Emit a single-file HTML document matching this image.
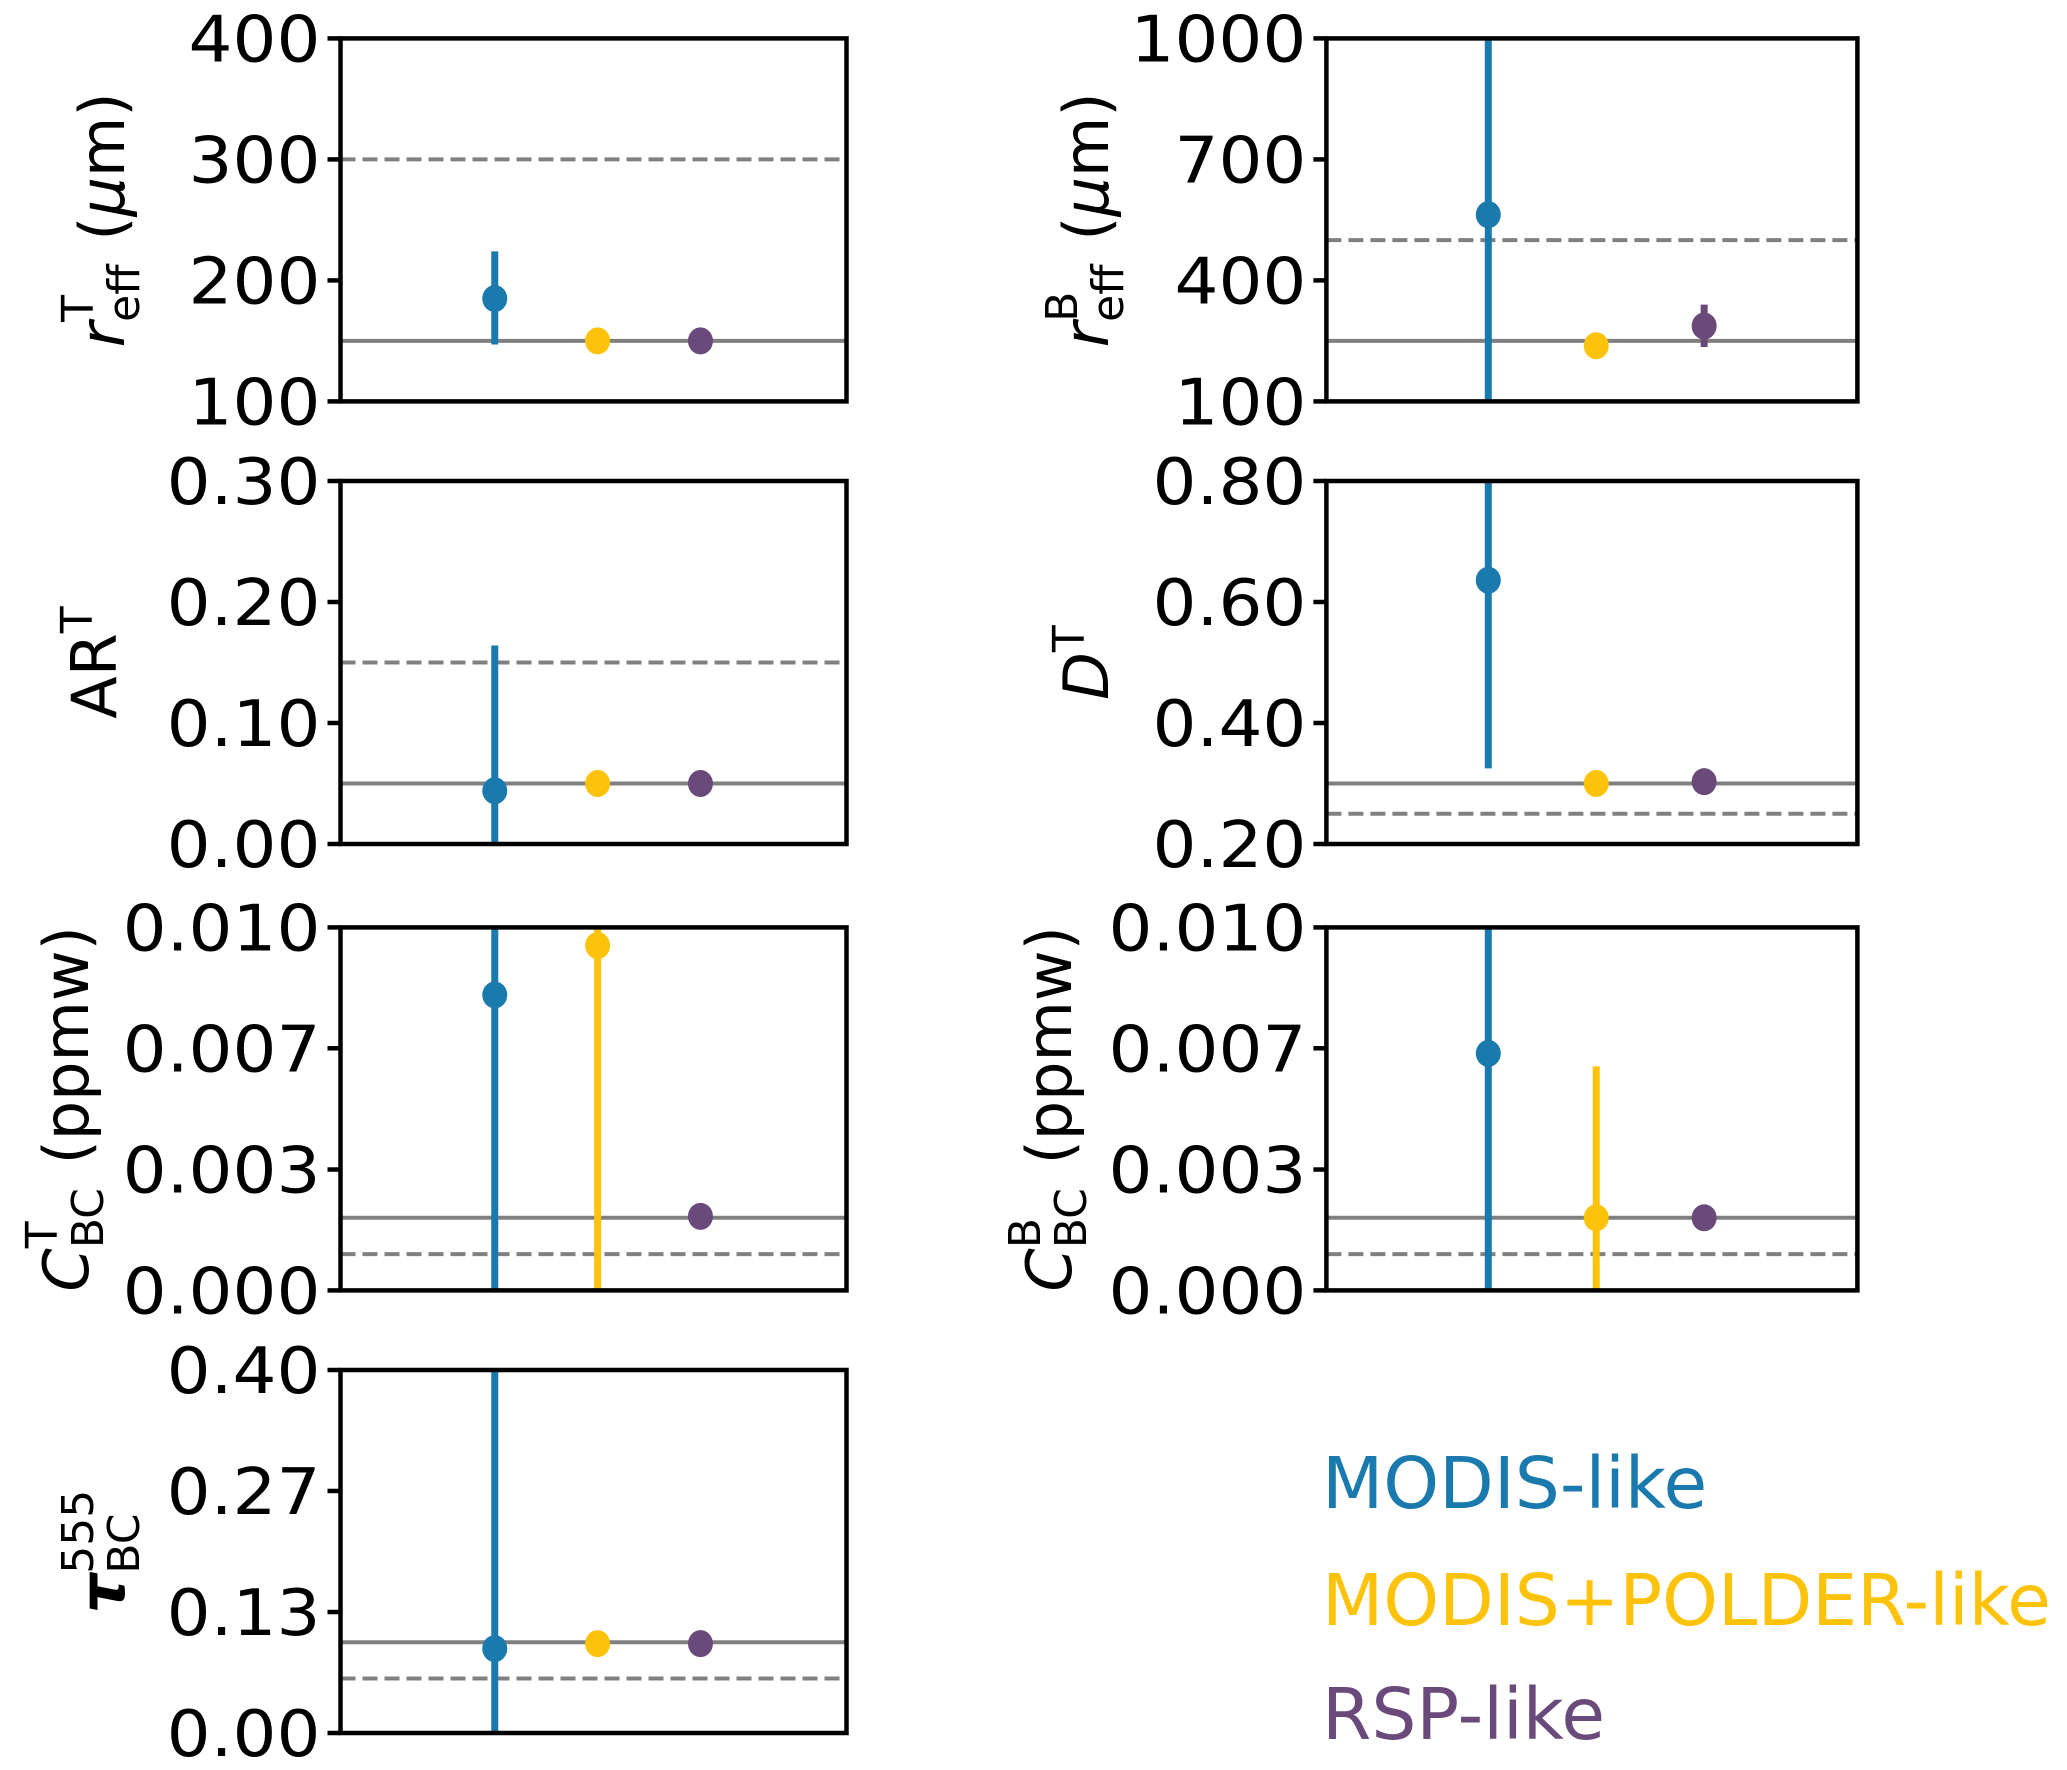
<!DOCTYPE html>
<html><head><meta charset="utf-8">
<style>
html,body{margin:0;padding:0;background:#fff;}
svg{display:block;font-family:"DejaVu Sans","Liberation Sans",sans-serif;}
</style></head>
<body>
<svg id="fig" width="2067" height="1770" viewBox="0 0 2067 1770">
<g id="legend" font-size="71">
<text x="1322" y="1508" fill="#1a7aad">MODIS-like</text>
<text x="1322" y="1625" fill="#fdc20a">MODIS+POLDER-like</text>
<text x="1322" y="1739" fill="#6a4a7a">RSP-like</text>
</g>
</svg>
<script>
// ---- data ----
const seriesNames = ["MODIS-like","MODIS+POLDER-like","RSP-like"];
const seriesColors = ["#1a7aad","#fdc20a","#6a4a7a"];
const panelIds = ["reffT","reffB","ART","DT","CbcT","CbcB","tau"];
const yMin = [100,100,0,0.2,0,0,0];
const yMax = [400,1000,0.3,0.8,0.01,0.01,0.4];
const tickValues = [[100,200,300,400],[100,400,700,1000],[0,0.1,0.2,0.3],[0.2,0.4,0.6,0.8],[0,0.00333,0.00667,0.01],[0,0.00333,0.00667,0.01],[0,0.1333,0.2667,0.4]];
const tickLabels = [["100","200","300","400"],["100","400","700","1000"],["0.00","0.10","0.20","0.30"],["0.20","0.40","0.60","0.80"],["0.000","0.003","0.007","0.010"],["0.000","0.003","0.007","0.010"],["0.00","0.13","0.27","0.40"]];
const truthValues = [150,250,0.05,0.3,0.002,0.002,0.1];
const priorValues = [300,500,0.15,0.25,0.001,0.001,0.06];
const modisValues = [185,563,0.044,0.636,0.00814,0.00653,0.093];
const modisLow = [147,0,-0.1,0.325,0,0,0];
const modisHigh = [224,2000,0.164,1.0,0.02,0.02,1.0];
const polderValues = [150,238,0.05,0.30,0.0095,0.002,0.0985];
const polderLow = [150,238,0.05,0.29,0,0,0.0985];
const polderHigh = [150,238,0.05,0.31,0.02,0.00617,0.0985];
const rspValues = [150,287,0.05,0.303,0.00204,0.002,0.0985];
const rspLow = [150,235,0.05,0.303,0.00204,0.002,0.0985];
const rspHigh = [150,340,0.05,0.303,0.00204,0.002,0.0985];
const categories = [1,2,3];

const NS="http://www.w3.org/2000/svg";
const svg=document.getElementById('fig');
const colX=[340.5,1326.4], W=[506,531], rowY=[38.4,481,927.4,1370], H=363;
const xDom=[-0.5,4.42];
const labelX=[124,1108,116,1108,88,1071,124];
function mk(tag,attrs,parent){const e=document.createElementNS(NS,tag);for(const k in attrs)e.setAttribute(k,attrs[k]);(parent||svg).appendChild(e);return e;}

const labels=[
 [["r",{"font-style":"italic"}],["eff",{dy:15,"font-size":44},"sub"],["T",{dy:-46,"font-size":44},"sup"],[" (",{dy:31},"after"],["μ",{"font-style":"italic"}],["m)",{}]],
 [["r",{"font-style":"italic"}],["eff",{dy:15,"font-size":44},"sub"],["B",{dy:-46,"font-size":44},"sup"],[" (",{dy:31},"after"],["μ",{"font-style":"italic"}],["m)",{}]],
 [["AR",{}],["T",{dy:-24,"font-size":44}]],
 [["D",{"font-style":"italic"}],["T",{dy:-24,"font-size":44}]],
 [["C",{"font-style":"italic"}],["BC",{dy:15,"font-size":44},"sub"],["T",{dy:-46,"font-size":44},"sup"],[" (ppmw)",{dy:31},"after"]],
 [["C",{"font-style":"italic"}],["BC",{dy:15,"font-size":44},"sub"],["B",{dy:-46,"font-size":44},"sup"],[" (ppmw)",{dy:31},"after"]],
 [["τ",{"font-style":"italic","font-weight":"bold"}],["BC",{dy:15,"font-size":44},"sub"],["555",{dy:-46,"font-size":44},"sup"]]
];

panelIds.forEach((id,p)=>{
  const c=p%2, r=Math.floor(p/2);
  const L=colX[c], T=rowY[r], w=W[c];
  const g=mk('g',{});
  
  
  const ys=v=>T+H-(v-yMin[p])/(yMax[p]-yMin[p])*H;
  const xs=v=>L+(v-xDom[0])/(xDom[1]-xDom[0])*w;
  const clip=mk('clipPath',{id:'clip'+p},g);
  mk('rect',{x:L,y:T,width:w,height:H},clip);
  const inner=mk('g',{'clip-path':'url(#clip'+p+')'},g);
  const tl=mk('line',{x1:L,x2:L+w,y1:ys(truthValues[p]),y2:ys(truthValues[p]),stroke:'#808080','stroke-width':4},inner);
  
  
  const pl=mk('line',{x1:L,x2:L+w,y1:ys(priorValues[p]),y2:ys(priorValues[p]),stroke:'#808080','stroke-width':4,'stroke-dasharray':'15 7'},inner);
  
  
  const vals=[modisValues,polderValues,rspValues], lo=[modisLow,polderLow,rspLow], hi=[modisHigh,polderHigh,rspHigh];
  categories.forEach((cat,s)=>{
    const x=xs(cat);
    const eb=mk('line',{x1:x,x2:x,y1:ys(lo[s][p]),y2:ys(hi[s][p]),stroke:seriesColors[s],'stroke-width':7},inner);
    
    
    const pt=mk('ellipse',{cx:x,cy:ys(vals[s][p]),rx:12.5,ry:13.5,fill:seriesColors[s]},inner);
    
    
  });
  const fr=mk('rect',{x:L,y:T,width:w,height:H,fill:'none',stroke:'#000','stroke-width':4.5},g);
  
  
  tickValues[p].forEach((tv,i)=>{
    const y=ys(tv);
    mk('line',{x1:L-13,x2:L,y1:y,y2:y,stroke:'#000','stroke-width':4.5},g);
    const t=mk('text',{x:L-20,y:y+23,'text-anchor':'end','font-size':64,fill:'#000'},g);
    
    
    t.textContent=tickLabels[p][i];
    const len=t.getComputedTextLength();
    t.setAttribute('textLength',len*1.08);
    t.setAttribute('lengthAdjust','spacingAndGlyphs');
  });
  const lx=labelX[p], ly=T+H/2;
  const lt=mk('text',{x:0,y:0,'font-size':62,'text-anchor':'middle',transform:`translate(${lx},${ly}) rotate(-90)`},g);
  
  
  let lastSub=null, lastSup=null;
  labels[p].forEach(([txt,a,role])=>{
    const ts=mk('tspan',a,lt);ts.textContent=txt;
    if(role==='sub') lastSub=ts;
    if(role==='sup' && lastSub){ts.setAttribute('dx',-lastSub.getComputedTextLength());lastSup=ts;}
    if(role==='after' && lastSub){
      const extra=Math.max(0,(lastSub.getComputedTextLength()-(lastSup?lastSup.getComputedTextLength():0)));
      ts.setAttribute('dx',extra+4);
    }
  });
});
</script>
</body></html>
